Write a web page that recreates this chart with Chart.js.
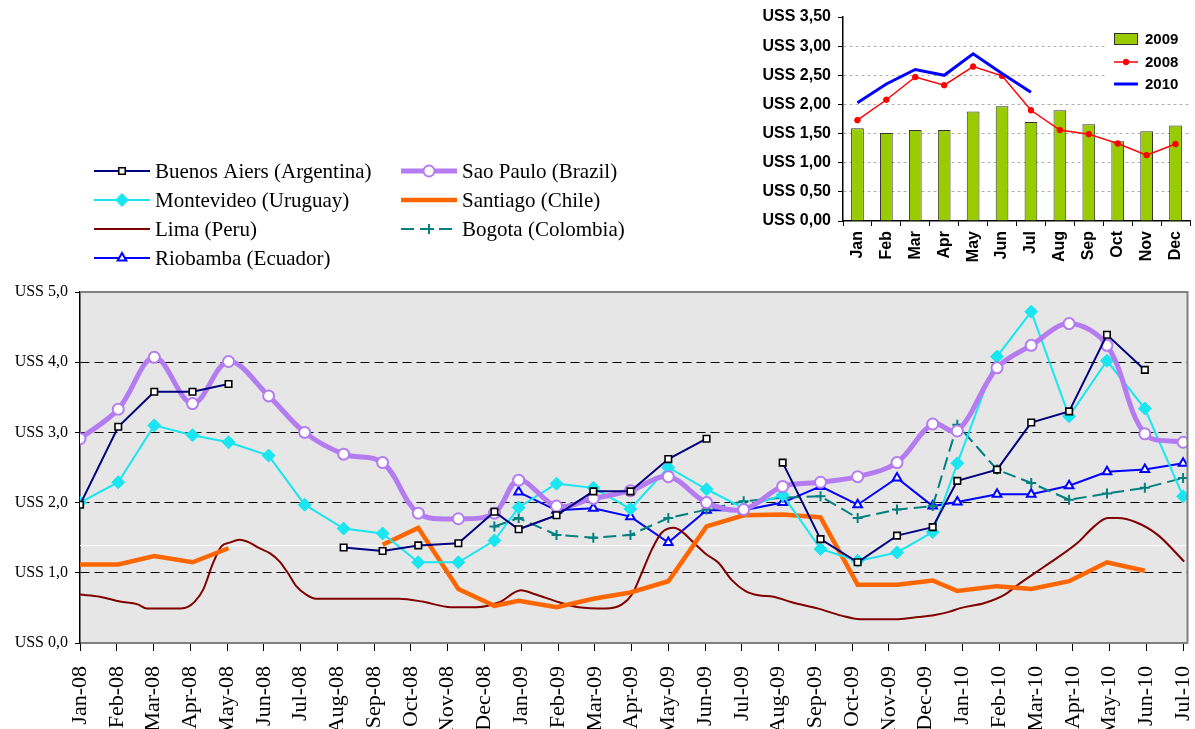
<!DOCTYPE html>
<html>
<head>
<meta charset="utf-8">
<title>Precio promedio - Sudamérica</title>
<script src="https://cdn.jsdelivr.net/npm/chart.js@4.4.1/dist/chart.umd.min.js"></script>
<style>
  html, body { margin: 0; padding: 0; background: #fff; overflow: hidden; }
  #wrap { position: relative; width: 1195px; height: 729px; }
  #mainChart { position: absolute; left: 0; top: 0; }
  #insetChart { position: absolute; left: 750px; top: 0; }
</style>
</head>
<body>
<div id="wrap">
  <canvas id="mainChart" width="1195" height="729"></canvas>
  <canvas id="insetChart" width="445" height="270"></canvas>
</div>
<script>
// --- inset chart (monthly average per year) ---
const insetMonths = ['Jan', 'Feb', 'Mar', 'Apr', 'May', 'Jun', 'Jul', 'Aug', 'Sep', 'Oct', 'Nov', 'Dec'];
const avg2009 = [1.59, 1.51, 1.56, 1.56, 1.88, 1.97, 1.70, 1.90, 1.66, 1.37, 1.54, 1.64];
const avg2008 = [1.73, 2.08, 2.47, 2.33, 2.65, 2.49, 1.90, 1.56, 1.49, 1.33, 1.13, 1.32];
const avg2010 = [2.03, 2.35, 2.60, 2.50, 2.87, 2.53, 2.21, null, null, null, null, null];

// --- main chart: x in months since Jan-08 ---
const monthLabels = [
  'Jan-08', 'Feb-08', 'Mar-08', 'Apr-08', 'May-08', 'Jun-08', 'Jul-08', 'Aug-08', 'Sep-08', 'Oct-08', 'Nov-08', 'Dec-08',
  'Jan-09', 'Feb-09', 'Mar-09', 'Apr-09', 'May-09', 'Jun-09', 'Jul-09', 'Aug-09', 'Sep-09', 'Oct-09', 'Nov-09', 'Dec-09',
  'Jan-10', 'Feb-10', 'Mar-10', 'Apr-10', 'May-10', 'Jun-10', 'Jul-10'
];

// dates of the monthly observations (shared by most cities)
const obsMonths = [0, 1.04, 2.02, 3.06, 4.04, 5.13, 6.11, 7.17, 8.23, 9.2, 10.29, 11.27, 11.93, 12.96, 13.96, 14.97,
  16.0, 17.04, 18.05, 19.11, 20.14, 21.15, 22.22, 23.19, 23.86, 24.94, 25.87, 26.9, 27.93, 28.96, 30.0];

const buenosAires = [1.97, 3.08, 3.58, 3.58, 3.69, null, null, 1.36, 1.31, 1.39, 1.42, 1.87, 1.62, 1.82, 2.16, 2.16,
  2.62, 2.91, null, 2.57, 1.48, 1.15, 1.53, 1.65, 2.31, 2.47, 3.14, 3.30, 4.39, 3.89, null];
const saoPaulo = [2.91, 3.33, 4.07, 3.41, 4.01, 3.52, 3.00, 2.69, 2.57, 1.85, 1.77, 1.85, 2.32, 1.95, 2.06, 2.17,
  2.37, 2.00, 1.90, 2.23, 2.29, 2.37, 2.57, 3.12, 3.02, 3.92, 4.24, 4.55, 4.24, 2.98, 2.86];
const montevideo = [2.00, 2.29, 3.10, 2.96, 2.86, 2.67, 1.97, 1.63, 1.56, 1.15, 1.15, 1.46, 1.93, 2.27, 2.21, 1.91,
  2.50, 2.19, 1.92, 2.11, 1.34, 1.17, 1.29, 1.58, 2.56, 4.08, 4.72, 3.23, 4.02, 3.34, 2.09];
const santiago = [1.12, 1.12, 1.24, 1.15, 1.35, null, null, null, 1.40, 1.64, 0.77, 0.53, 0.60, 0.51, 0.63, 0.72,
  0.88, 1.66, 1.82, 1.83, 1.79, 0.83, 0.83, 0.89, 0.74, 0.81, 0.77, 0.88, 1.15, 1.03, null];
const bogota = [null, null, null, null, null, null, null, null, null, null, null, 1.66, 1.78, 1.54, 1.50, 1.54,
  1.78, 1.90, 2.02, 2.07, 2.09, 1.78, 1.90, 1.95, 3.11, 2.47, 2.28, 2.04, 2.13, 2.21, 2.35];
const riobamba = [null, null, null, null, null, null, null, null, null, null, null, null, 2.15, 1.89, 1.92, 1.80,
  1.43, 1.89, 1.89, 2.00, 2.23, 1.97, 2.35, 1.95, 2.01, 2.12, 2.12, 2.24, 2.44, 2.47, 2.56];

// Lima is sampled more often
const limaMonths = [0, 0.54, 1.09, 1.57, 1.82, 2.58, 2.85, 3.12, 3.35, 3.62, 3.85, 4.07, 4.34, 4.61, 4.88, 5.16, 5.43,
  5.65, 5.88, 6.15, 6.42, 7.06, 8.68, 9.31, 10.09, 10.77, 11.40, 11.99, 12.40, 13.03, 13.57, 14.30, 14.74, 15.01, 15.28,
  15.55, 15.82, 16.15, 16.36, 16.69, 17.04, 17.37, 17.72, 18.10, 18.45, 18.86, 19.36, 20.08, 20.71, 21.21, 22.25, 22.80,
  23.25, 23.61, 23.97, 24.60, 25.15, 25.51, 26.23, 27.14, 27.54, 27.95, 28.22, 28.72, 29.31, 30.03];
const lima = [0.69, 0.66, 0.59, 0.55, 0.49, 0.49, 0.50, 0.59, 0.76, 1.14, 1.38, 1.43, 1.47, 1.43, 1.35, 1.28, 1.16,
  1.00, 0.81, 0.69, 0.63, 0.63, 0.63, 0.59, 0.51, 0.51, 0.58, 0.75, 0.69, 0.58, 0.51, 0.49, 0.55, 0.69, 1.00,
  1.33, 1.57, 1.64, 1.59, 1.43, 1.26, 1.14, 0.90, 0.74, 0.68, 0.66, 0.58, 0.49, 0.39, 0.34, 0.34, 0.37,
  0.40, 0.44, 0.50, 0.57, 0.69, 0.83, 1.09, 1.43, 1.64, 1.78, 1.78, 1.72, 1.54, 1.16];

const refLineValue = 1.4; // thin white line across the plot

const toPoints = (xs, ys) => xs.map((x, i) => ({ x: x, y: ys[i] })).filter(p => p.y !== null);
const fmtUss = (v, d) => 'USS ' + Number(v).toFixed(d).replace('.', ',');

// small marker drawer for the hand-placed legends
function drawMarker(ctx, style, r, x, y) {
  ctx.beginPath();
  if (style === 'rect') {
    const s = r * Math.SQRT1_2;
    ctx.rect(x - s, y - s, 2 * s, 2 * s);
  } else if (style === 'rectRot') {
    ctx.moveTo(x - r, y); ctx.lineTo(x, y - r); ctx.lineTo(x + r, y); ctx.lineTo(x, y + r); ctx.closePath();
  } else if (style === 'triangle') {
    for (let k = 0; k < 3; k++) {
      const a = k * 2 * Math.PI / 3;
      const px = x + Math.sin(a) * r, py = y - Math.cos(a) * r;
      if (k === 0) ctx.moveTo(px, py); else ctx.lineTo(px, py);
    }
    ctx.closePath();
  } else if (style === 'cross') {
    ctx.moveTo(x - r, y); ctx.lineTo(x + r, y); ctx.moveTo(x, y - r); ctx.lineTo(x, y + r);
  } else {
    ctx.arc(x, y, r, 0, Math.PI * 2);
  }
  if (style !== 'cross') ctx.fill();
  ctx.stroke();
}

// legend laid out on a fixed grid (rows x columns)
const gridLegend = {
  id: 'gridLegend',
  afterDraw(chart, args, opts) {
    const ctx = chart.ctx;
    ctx.save();
    if (opts.box) {
      ctx.fillStyle = '#fff';
      ctx.fillRect(opts.box[0], opts.box[1], opts.box[2], opts.box[3]);
    }
    ctx.font = opts.font;
    ctx.textBaseline = 'middle';
    chart.data.datasets.forEach((ds, i) => {
      const col = i % opts.cols, row = Math.floor(i / opts.cols);
      const x0 = opts.x[col], y = opts.y[row], x1 = x0 + opts.lineLen;
      if ((ds.type || chart.config.type) === 'bar') {
        ctx.fillStyle = ds.backgroundColor;
        ctx.strokeStyle = ds.borderColor;
        ctx.lineWidth = 1;
        ctx.fillRect(x0, y - 6, opts.lineLen, 12);
        ctx.strokeRect(x0 + 0.5, y - 5.5, opts.lineLen - 1, 11);
      } else {
        ctx.strokeStyle = ds.borderColor;
        ctx.lineWidth = ds.borderWidth;
        ctx.setLineDash(ds.borderDash || []);
        ctx.beginPath(); ctx.moveTo(x0, y); ctx.lineTo(x1, y); ctx.stroke();
        ctx.setLineDash([]);
        if (ds.pointRadius > 0) {
          ctx.fillStyle = ds.pointBackgroundColor;
          ctx.strokeStyle = ds.pointBorderColor;
          ctx.lineWidth = ds.pointBorderWidth;
          drawMarker(ctx, ds.pointStyle, ds.pointRadius, (x0 + x1) / 2, y);
        }
      }
      ctx.fillStyle = '#000';
      ctx.fillText(ds.label, x1 + opts.gap, y + 1);
    });
    ctx.restore();
  }
};

// grey plot background, white reference line and grey top/right frame
const plotDecor = {
  id: 'plotDecor',
  beforeDraw(chart) {
    const { ctx, chartArea: a } = chart;
    ctx.save();
    ctx.fillStyle = '#e6e6e6';
    ctx.fillRect(a.left, a.top, a.right - a.left, a.bottom - a.top);
    ctx.restore();
  },
  beforeDatasetsDraw(chart) {
    const { ctx, chartArea: a } = chart;
    const y = Math.round(chart.scales.y.getPixelForValue(refLineValue)) + 0.5;
    ctx.save();
    ctx.strokeStyle = '#fff';
    ctx.lineWidth = 1;
    ctx.beginPath(); ctx.moveTo(a.left, y); ctx.lineTo(a.right, y); ctx.stroke();
    ctx.restore();
  },
  afterDatasetsDraw(chart) {
    const { ctx, chartArea: a } = chart;
    ctx.save();
    ctx.strokeStyle = '#808080';
    ctx.lineWidth = 2;
    ctx.beginPath();
    ctx.moveTo(a.left, a.top); ctx.lineTo(a.right, a.top); ctx.lineTo(a.right, a.bottom);
    ctx.stroke();
    ctx.restore();
  }
};

const serif = 'Liberation Serif';

new Chart(document.getElementById('mainChart'), {
  type: 'line',
  data: {
    datasets: [
      {
        label: 'Buenos Aiers (Argentina)', data: toPoints(obsMonths, buenosAires),
        borderColor: '#000080', borderWidth: 2, pointStyle: 'rect', pointRadius: 4.6,
        pointBackgroundColor: '#fff', pointBorderColor: '#000', pointBorderWidth: 1.6, spanGaps: 1.5
      },
      {
        label: 'Sao Paulo (Brazil)', data: toPoints(obsMonths, saoPaulo),
        borderColor: '#b47cf0', borderWidth: 5, tension: 0.35, pointStyle: 'circle', pointRadius: 5.5,
        pointBackgroundColor: '#fff', pointBorderColor: '#b47cf0', pointBorderWidth: 2, spanGaps: 1.5
      },
      {
        label: 'Montevideo (Uruguay)', data: toPoints(obsMonths, montevideo),
        borderColor: '#19e6f0', borderWidth: 2, pointStyle: 'rectRot', pointRadius: 6.5,
        pointBackgroundColor: '#19e6f0', pointBorderColor: '#19e6f0', pointBorderWidth: 1, spanGaps: 1.5
      },
      {
        label: 'Santiago (Chile)', data: toPoints(obsMonths, santiago),
        borderColor: '#ff6600', borderWidth: 4.5, pointRadius: 0, spanGaps: 1.5
      },
      {
        label: 'Lima (Peru)', data: toPoints(limaMonths, lima),
        borderColor: '#800000', borderWidth: 2, pointRadius: 0, cubicInterpolationMode: 'monotone', spanGaps: true
      },
      {
        label: 'Bogota (Colombia)', data: toPoints(obsMonths, bogota),
        borderColor: '#008080', borderWidth: 2, borderDash: [13, 6], pointStyle: 'cross', pointRadius: 5,
        pointBackgroundColor: '#008080', pointBorderColor: '#008080', pointBorderWidth: 2, spanGaps: 1.5
      },
      {
        label: 'Riobamba (Ecuador)', data: toPoints(obsMonths, riobamba),
        borderColor: '#0000ff', borderWidth: 2, pointStyle: 'triangle', pointRadius: 5,
        pointBackgroundColor: '#fff', pointBorderColor: '#0000ff', pointBorderWidth: 2, spanGaps: 1.5
      }
    ]
  },
  options: {
    responsive: false,
    animation: false,
    events: [],
    layout: { padding: { top: 292, right: 5, bottom: 0, left: 0 } },
    plugins: {
      legend: { display: false },
      tooltip: { enabled: false },
      gridLegend: {
        cols: 2, x: [94, 401], y: [171, 200, 229, 258], lineLen: 56, gap: 5,
        font: '21px "' + serif + '"'
      }
    },
    scales: {
      x: {
        type: 'linear', min: 0, max: 30.12,
        afterBuildTicks: (scale) => { scale.ticks = monthLabels.map((l, i) => ({ value: i })); },
        afterFit: (scale) => {
          scale.height = 86;
          scale.paddingLeft = 0;
          scale.paddingRight = 0;
        },
        ticks: {
          autoSkip: false, minRotation: 90, maxRotation: 90, padding: 15, color: '#000',
          font: { family: serif, size: 22 },
          callback: (v) => monthLabels[v]
        },
        grid: { drawOnChartArea: false, tickLength: 8, tickColor: '#000' },
        border: { color: '#808080', width: 2 }
      },
      y: {
        min: 0, max: 5,
        afterFit: (scale) => { scale.width = 80; },
        ticks: {
          stepSize: 1, padding: 7, color: '#000',
          font: { family: serif, size: 16 },
          callback: (v) => fmtUss(v, 1)
        },
        grid: {
          color: (c) => (c.tick && c.tick.value > 0 && c.tick.value < 5) ? '#000' : 'rgba(0,0,0,0)',
          lineWidth: 1, tickLength: 5, tickColor: '#000'
        },
        border: { color: '#000', width: 1.5, dash: [9, 5] }
      }
    }
  },
  plugins: [plotDecor, gridLegend]
});

const sans = 'Liberation Sans';

new Chart(document.getElementById('insetChart'), {
  type: 'bar',
  data: {
    labels: insetMonths,
    datasets: [
      {
        label: '2009', data: avg2009, order: 2,
        backgroundColor: '#99cc00', borderColor: '#333', borderWidth: 1,
        barPercentage: 0.44, categoryPercentage: 1
      },
      {
        type: 'line', label: '2008', data: avg2008, order: 1,
        borderColor: '#ff0000', borderWidth: 1.5, pointStyle: 'circle', pointRadius: 2.8,
        pointBackgroundColor: '#ff0000', pointBorderColor: '#ff0000', pointBorderWidth: 1
      },
      {
        type: 'line', label: '2010', data: avg2010, order: 0,
        borderColor: '#0000ff', borderWidth: 3, pointRadius: 0
      }
    ]
  },
  options: {
    responsive: false,
    animation: false,
    events: [],
    layout: { padding: { top: 17, right: 0, bottom: 0, left: 0 } },
    plugins: {
      legend: { display: false },
      tooltip: { enabled: false },
      gridLegend: {
        cols: 1, x: [364], y: [39, 62, 84], lineLen: 24, gap: 7,
        box: [357, 27, 88, 70],
        font: 'bold 15px "' + sans + '"'
      }
    },
    scales: {
      x: {
        afterFit: (scale) => {
          scale.height = 49;
          scale.paddingLeft = 0;
          scale.paddingRight = 0;
        },
        ticks: {
          autoSkip: false, minRotation: 90, maxRotation: 90, padding: 5, color: '#000',
          font: { family: sans, size: 16, weight: 'bold' }
        },
        grid: { offset: true, drawOnChartArea: false, tickLength: 5, tickColor: '#000' },
        border: { color: '#000', width: 1.5 }
      },
      y: {
        min: 0, max: 3.5,
        afterFit: (scale) => { scale.width = 93; },
        ticks: {
          stepSize: 0.5, padding: 7, color: '#000',
          font: { family: sans, size: 16, weight: 'bold' },
          callback: (v) => fmtUss(v, 2)
        },
        grid: {
          color: (c) => (c.tick && c.tick.value > 0 && c.tick.value < 3.5) ? '#b0b0b0' : 'rgba(0,0,0,0)',
          lineWidth: 1, tickLength: 5, tickColor: '#000'
        },
        border: { color: '#000', width: 1.5, dash: [3, 3] }
      }
    }
  },
  plugins: [gridLegend]
});
</script>
</body>
</html>
